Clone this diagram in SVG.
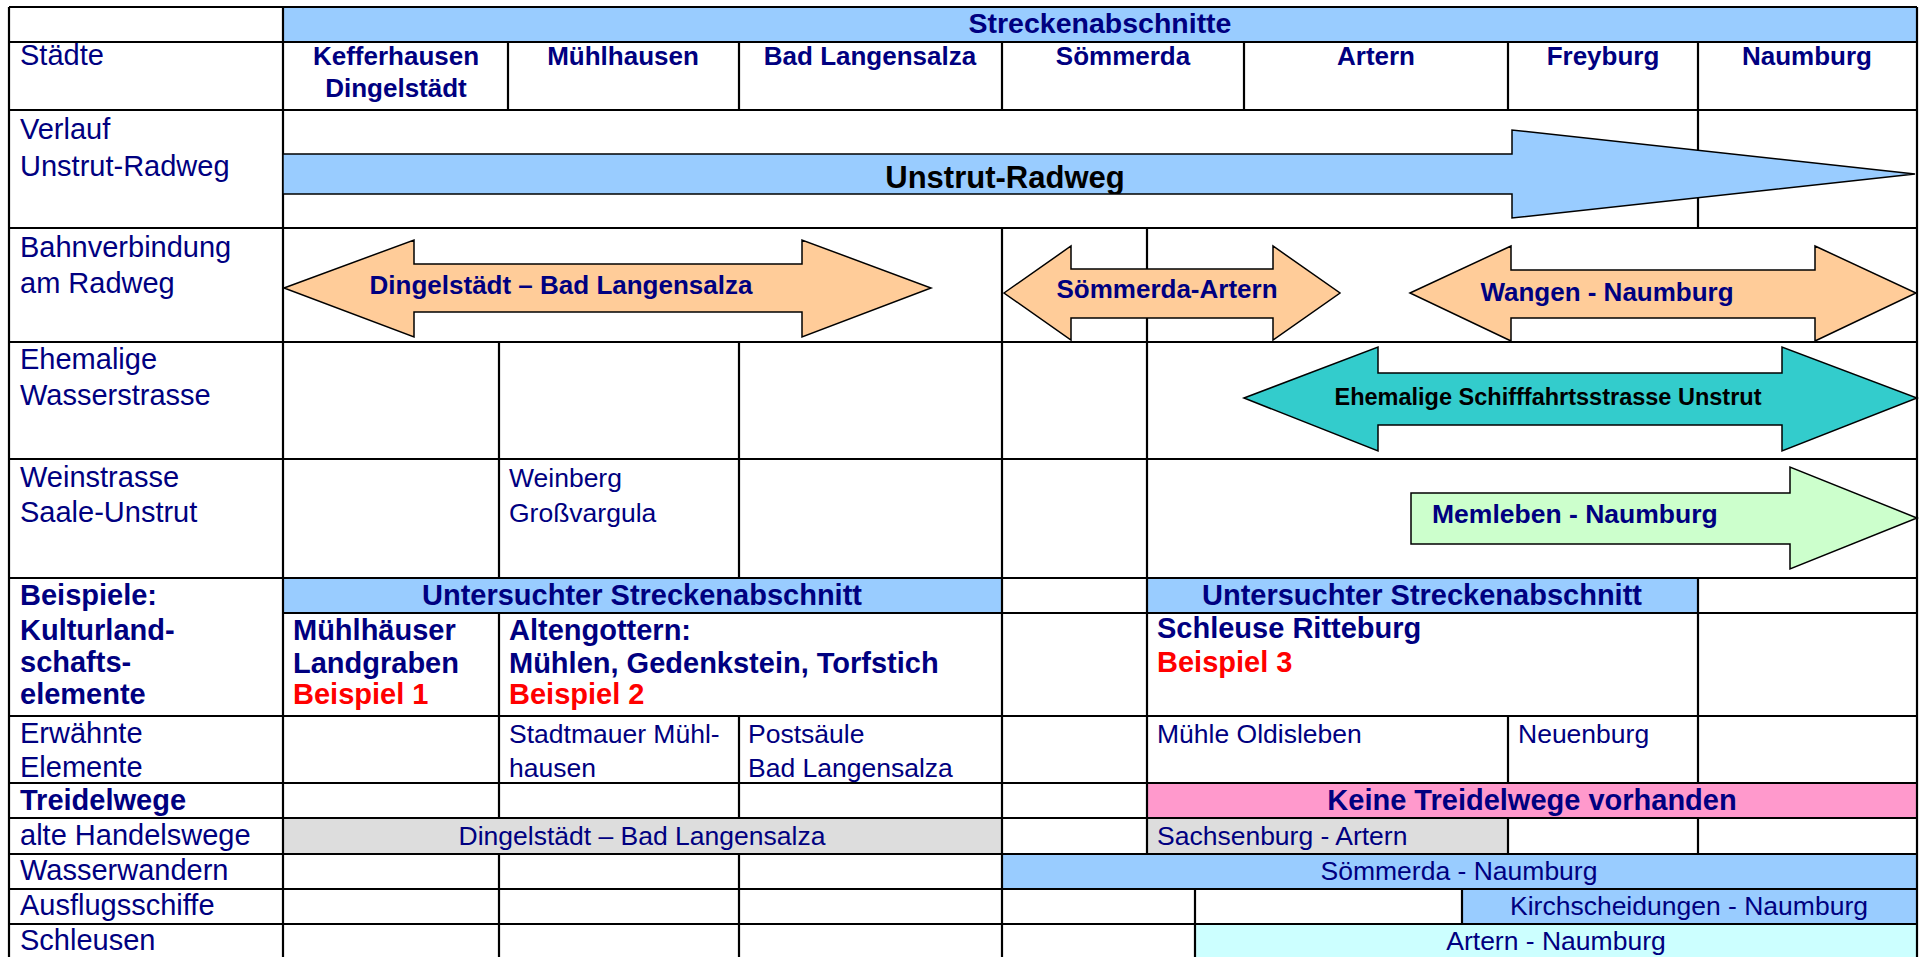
<svg xmlns="http://www.w3.org/2000/svg" width="1919" height="957" viewBox="0 0 1919 957">
<style>
.bg{fill:#fff}
.blue{fill:#99CCFF}
.grey{fill:#DDDDDD}
.pink{fill:#FF99CC}
.cyan{fill:#CCFFFF}
.ln{stroke:#000;stroke-width:2.2;fill:none}
.arr{stroke:#000;stroke-width:1.5;stroke-linejoin:miter}
.t{font-family:"Liberation Sans",Arial,Helvetica,sans-serif;fill:#000080}
.lab{font-size:29px}
.cell{font-size:26.5px}
.hd{font-size:26px;font-weight:bold}
.b{font-weight:bold}
.red{fill:#FF0000}
.mid{text-anchor:middle}
</style>
<defs>
<clipPath id="clipRad"><polygon points="283,154 1512,154 1512,130 1915,174 1512,218 1512,194 283,194"/></clipPath>
</defs>
<rect class="bg" x="0" y="0" width="1919" height="957"/>

<g id="fills">
<rect class="blue" x="283" y="7" width="1634" height="35"/>
<rect class="blue" x="283" y="578" width="719" height="35"/>
<rect class="blue" x="1147" y="578" width="551" height="35"/>
<rect class="pink" x="1147" y="783" width="770" height="35"/>
<rect class="grey" x="283" y="818" width="719" height="36"/>
<rect class="grey" x="1147" y="818" width="361" height="36"/>
<rect class="blue" x="1002" y="854" width="915" height="35"/>
<rect class="blue" x="1462" y="889" width="455" height="35"/>
<rect class="cyan" x="1195" y="924" width="722" height="40"/>
</g>

<g id="grid" class="ln">
<path d="M9,7H1917M9,42H1917M9,110H1917M9,228H1917M9,342H1917M9,459H1917M9,578H1917M283,613H1917M9,716H1917M9,783H1917M9,818H1917M9,854H1917M9,889H1917M9,924H1917"/>
<path d="M9,7V960M283,7V960M1917,7V960"/>
<path d="M508,42V110M739,42V110M1002,42V110M1244,42V110M1508,42V110M1698,42V110"/>
<path d="M1698,110V228"/>
<path d="M1002,228V342M1147,228V342"/>
<path d="M499,342V578M739,342V578M1002,342V578M1147,342V578"/>
<path d="M1002,578V716M1147,578V716M1698,578V716M499,613V716"/>
<path d="M499,716V783M739,716V783M1002,716V783M1147,716V783M1508,716V783M1698,716V783"/>
<path d="M499,783V818M739,783V818M1002,783V818M1147,783V818"/>
<path d="M1002,818V854M1147,818V854M1508,818V854M1698,818V854"/>
<path d="M499,854V960M739,854V960M1002,854V960"/>
<path d="M1195,889V960M1462,889V924"/>
</g>

<g id="row-labels" class="t lab">
<text x="20" y="65">Städte</text>
<text x="20" y="139">Verlauf</text>
<text x="20" y="176">Unstrut-Radweg</text>
<text x="20" y="257">Bahnverbindung</text>
<text x="20" y="293">am Radweg</text>
<text x="20" y="369">Ehemalige</text>
<text x="20" y="405">Wasserstrasse</text>
<text x="20" y="487">Weinstrasse</text>
<text x="20" y="522">Saale-Unstrut</text>
<text class="b" x="20" y="605">Beispiele:</text>
<text class="b" x="20" y="640">Kulturland-</text>
<text class="b" x="20" y="672">schafts-</text>
<text class="b" x="20" y="704">elemente</text>
<text x="20" y="743">Erwähnte</text>
<text x="20" y="777">Elemente</text>
<text class="b" x="20" y="810">Treidelwege</text>
<text x="20" y="845">alte Handelswege</text>
<text x="20" y="880">Wasserwandern</text>
<text x="20" y="915">Ausflugsschiffe</text>
<text x="20" y="950">Schleusen</text>
</g>

<g id="header" class="t mid">
<text class="b" x="1100" y="33" font-size="28.5">Streckenabschnitte</text>
<text class="hd" x="396" y="65">Kefferhausen</text>
<text class="hd" x="396" y="97">Dingelstädt</text>
<text class="hd" x="623" y="65">Mühlhausen</text>
<text class="hd" x="870" y="65">Bad Langensalza</text>
<text class="hd" x="1123" y="65">Sömmerda</text>
<text class="hd" x="1376" y="65">Artern</text>
<text class="hd" x="1603" y="65">Freyburg</text>
<text class="hd" x="1807" y="65">Naumburg</text>
</g>

<g id="arrow-unstrut-radweg">
<polygon class="arr" fill="#99CCFF" points="283,154 1512,154 1512,130 1915,174 1512,218 1512,194 283,194"/>
<text class="t b mid" clip-path="url(#clipRad)" x="1005" y="188" font-size="31" style="fill:#000">Unstrut-Radweg</text>
</g>

<g id="arrow-dingelstaedt">
<polygon class="arr" fill="#FFCC99" points="284,288 414,240 414,264 802,264 802,240 931,288 802,337 802,312 414,312 414,337"/>
<text class="t hd mid" x="561" y="294">Dingelstädt – Bad Langensalza</text>
</g>

<g id="arrow-soemmerda-artern">
<polygon class="arr" fill="#FFCC99" points="1004,293 1071,246 1071,269 1273,269 1273,246 1340,293 1273,340 1273,318 1071,318 1071,340"/>
<text class="t hd mid" x="1167" y="298">Sömmerda-Artern</text>
</g>

<g id="arrow-wangen-naumburg">
<polygon class="arr" fill="#FFCC99" points="1410,293 1511,246 1511,270 1815,270 1815,246 1916,293 1815,341 1815,318 1511,318 1511,341"/>
<text class="t hd mid" x="1607" y="301">Wangen - Naumburg</text>
</g>

<g id="arrow-schifffahrt">
<polygon class="arr" fill="#33CCCC" points="1244,398 1378,347 1378,373 1782,373 1782,347 1917,398 1782,451 1782,425 1378,425 1378,451"/>
<text class="t b mid" x="1548" y="405" font-size="23.5" style="fill:#000">Ehemalige Schifffahrtsstrasse Unstrut</text>
</g>

<g id="arrow-memleben">
<polygon class="arr" fill="#CCFFCC" points="1411,493 1790,493 1790,467 1917,518 1790,569 1790,544 1411,544"/>
<text class="t b" x="1432" y="523" font-size="26.5">Memleben - Naumburg</text>
</g>

<g id="cell-weinberg" class="t cell">
<text x="509" y="487">Weinberg</text>
<text x="509" y="522">Großvargula</text>
</g>

<g id="band-untersucht-1" class="t b mid" font-size="29">
<text x="642" y="605">Untersuchter Streckenabschnitt</text>
</g>
<g id="band-untersucht-2" class="t b mid" font-size="29">
<text x="1422" y="605">Untersuchter Streckenabschnitt</text>
</g>

<g id="cell-beispiel1" class="t b" font-size="29">
<text x="293" y="640">Mühlhäuser</text>
<text x="293" y="673">Landgraben</text>
<text class="red" x="293" y="704">Beispiel 1</text>
</g>
<g id="cell-beispiel2" class="t b" font-size="29">
<text x="509" y="640">Altengottern:</text>
<text x="509" y="673">Mühlen, Gedenkstein, Torfstich</text>
<text class="red" x="509" y="704">Beispiel 2</text>
</g>
<g id="cell-beispiel3" class="t b" font-size="29">
<text x="1157" y="638">Schleuse Ritteburg</text>
<text class="red" x="1157" y="672">Beispiel 3</text>
</g>

<g id="cell-elemente" class="t cell">
<text x="509" y="743">Stadtmauer Mühl-</text>
<text x="509" y="777">hausen</text>
<text x="748" y="743">Postsäule</text>
<text x="748" y="777">Bad Langensalza</text>
<text x="1157" y="743">Mühle Oldisleben</text>
<text x="1518" y="743">Neuenburg</text>
</g>

<g id="cell-treidelwege">
<text class="t b mid" x="1532" y="810" font-size="29">Keine Treidelwege vorhanden</text>
</g>

<g id="cell-handelswege" class="t cell">
<text class="mid" x="642" y="845">Dingelstädt – Bad Langensalza</text>
<text x="1157" y="845">Sachsenburg - Artern</text>
</g>

<g id="cell-wasserwandern" class="t cell mid">
<text x="1459" y="880">Sömmerda - Naumburg</text>
</g>
<g id="cell-ausflug" class="t cell mid">
<text x="1689" y="915">Kirchscheidungen - Naumburg</text>
</g>
<g id="cell-schleusen" class="t cell mid">
<text x="1556" y="950">Artern - Naumburg</text>
</g>
</svg>
